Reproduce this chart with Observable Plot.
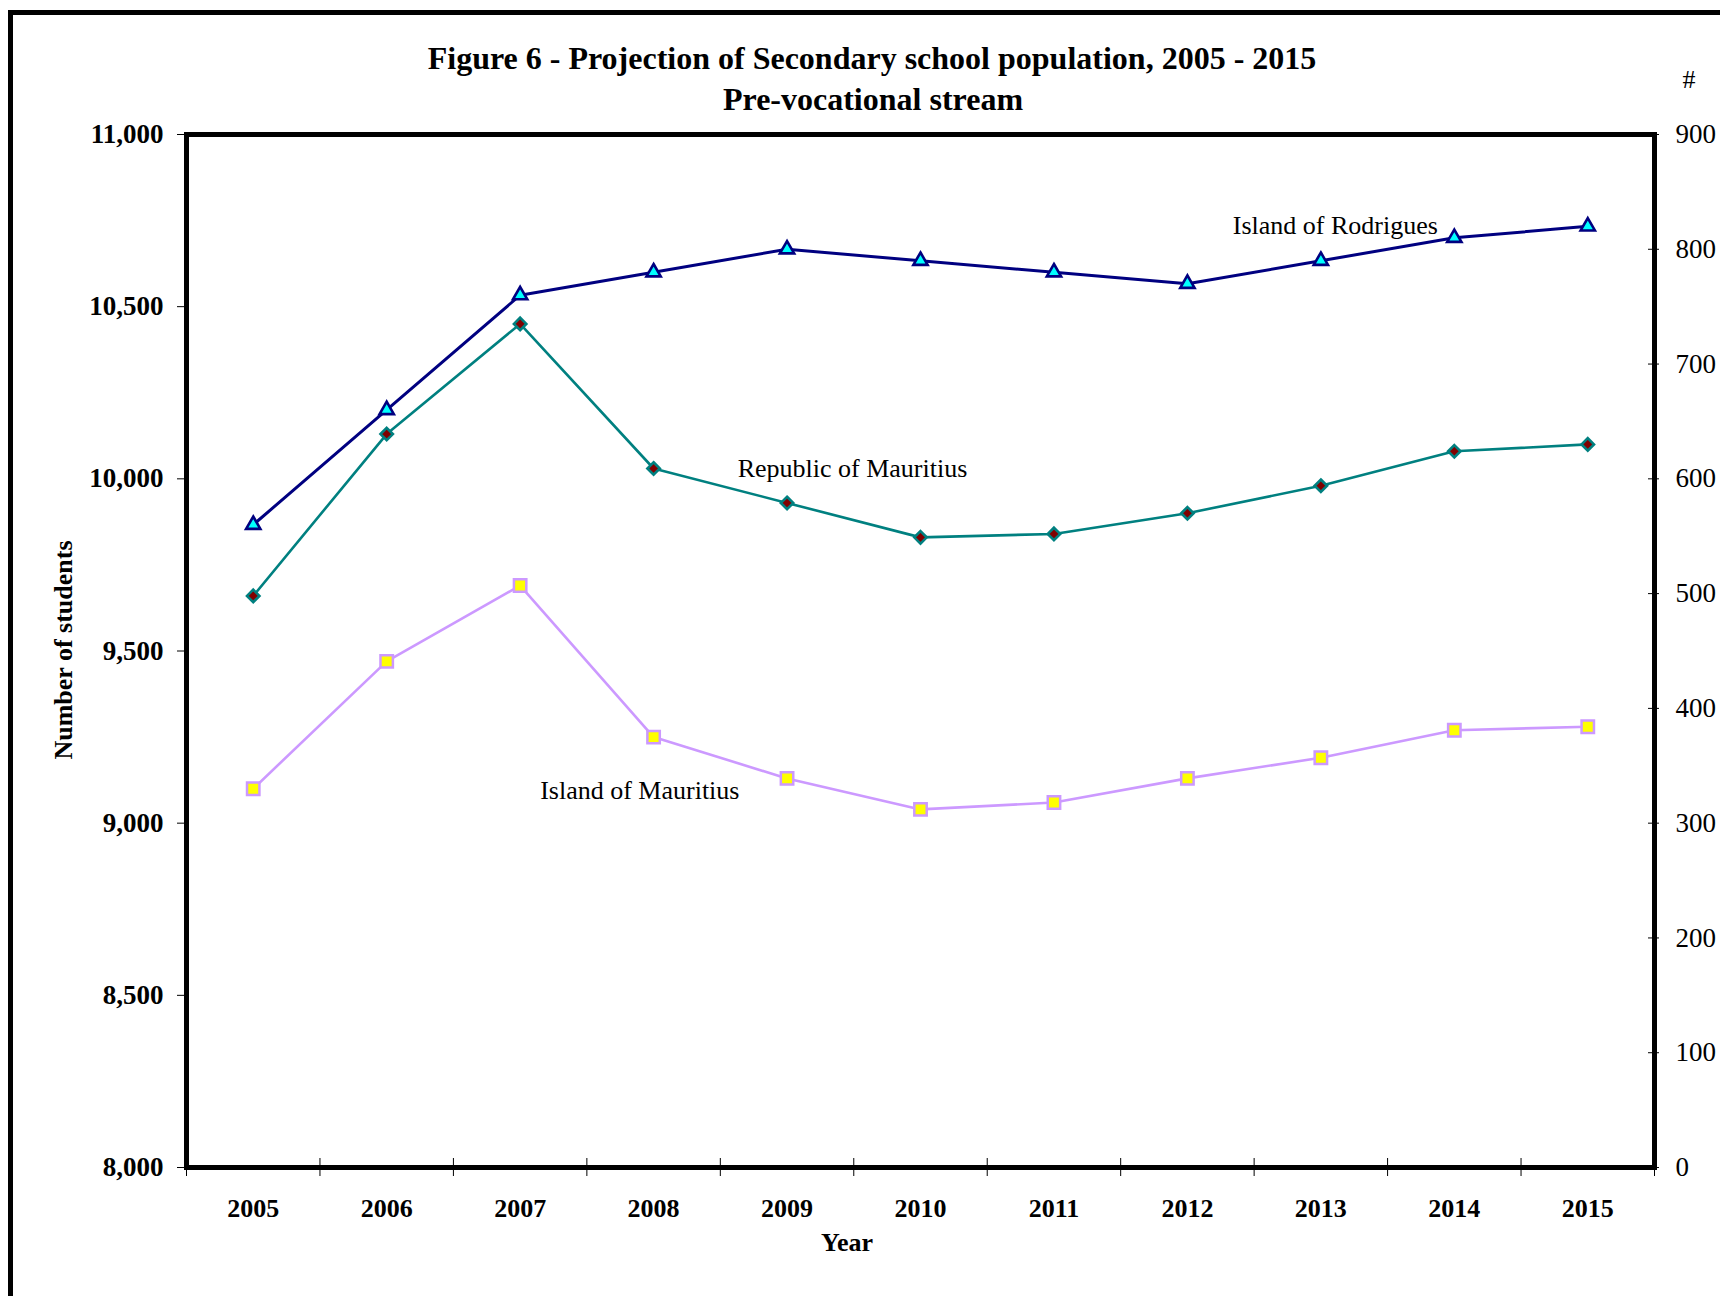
<!DOCTYPE html>
<html>
<head>
<meta charset="utf-8">
<script src="https://cdn.jsdelivr.net/npm/d3@7"></script>
<script src="https://cdn.jsdelivr.net/npm/@observablehq/plot@0.6"></script>
<style>
  html, body { margin: 0; padding: 0; background: #fff; overflow: hidden; }
  #wrap { position: relative; width: 1720px; height: 1296px; font-family: "Liberation Serif", "Times New Roman", serif; color: #000; overflow: hidden; }
  #chart { position: absolute; left: 0; top: 0; }
  #border { position: absolute; left: 8px; top: 10px; width: 1800px; height: 1400px; border-top: 5px solid #000; border-left: 5px solid #000; box-sizing: border-box; }
  .t { position: absolute; white-space: nowrap; transform: translate(-50%, -50%); line-height: 1; }
  .b { font-weight: bold; }
</style>
</head>
<body>
<div id="wrap">
  <div id="border"></div>
  <div id="chart"></div>
  <div class="t b" style="left:872px; top:58px; font-size:32px;">Figure 6 - Projection of Secondary school population, 2005 - 2015</div>
  <div class="t b" style="left:873px; top:99px; font-size:32px;">Pre-vocational stream</div>
  <div class="t" style="left:1689px; top:80px; font-size:26px;">#</div>
  <div class="t b" style="left:64px; top:650px; font-size:26px; transform: translate(-50%, -50%) rotate(-90deg);">Number of students</div>
  <div class="t b" style="left:847px; top:1243px; font-size:26px;">Year</div>
</div>
<script>
// ---- Data ----
const years = [2005, 2006, 2007, 2008, 2009, 2010, 2011, 2012, 2013, 2014, 2015];
const islandOfMauritius = [9100, 9470, 9690, 9250, 9130, 9040, 9060, 9130, 9190, 9270, 9280];
const republicOfMauritius = [9660, 10130, 10450, 10030, 9930, 9830, 9840, 9900, 9980, 10080, 10100];
const islandOfRodrigues = [560, 660, 760, 780, 800, 790, 780, 770, 790, 810, 820]; // right axis
const leftTicks = [8000, 8500, 9000, 9500, 10000, 10500, 11000];
const rightTicks = [0, 100, 200, 300, 400, 500, 600, 700, 800, 900];
const leftDomain = [8000, 11000];
const rightDomain = [0, 900];
const seriesNames = ["Island of Rodrigues", "Republic of Mauritius", "Island of Mauritius"];
const labelYears = [2012.34, 2008.63, 2007.15];
const labelValues = [10735, 10029, 9093];

// ---- Helpers ----
const toLeft = v => leftDomain[0] + (v - rightDomain[0]) * (leftDomain[1] - leftDomain[0]) / (rightDomain[1] - rightDomain[0]);
const fromLeft = v => rightDomain[0] + (v - leftDomain[0]) * (rightDomain[1] - rightDomain[0]) / (leftDomain[1] - leftDomain[0]);
const yearBounds = years.map(y => y - 0.5).concat([years[years.length - 1] + 0.5]);

const im = years.map((year, i) => ({year, value: islandOfMauritius[i]}));
const rep = years.map((year, i) => ({year, value: republicOfMauritius[i]}));
const rod = years.map((year, i) => ({year, value: toLeft(islandOfRodrigues[i])}));
const labels = seriesNames.map((text, i) => ({text, year: labelYears[i], value: labelValues[i]}));

const fmt = d3.format(",");

const chart = Plot.plot({
  width: 1720,
  height: 1296,
  marginLeft: 186,
  marginRight: 66,
  marginTop: 134,
  marginBottom: 129,
  style: {fontFamily: "'Liberation Serif', 'Times New Roman', serif", fontSize: "26px", background: "transparent", color: "#000"},
  x: {type: "linear", domain: [yearBounds[0], yearBounds[yearBounds.length - 1]]},
  y: {domain: leftDomain},
  marks: [
    // axes
    Plot.axisY({anchor: "left", ticks: leftTicks, tickSize: 9, tickPadding: 14, tickFormat: fmt, fontWeight: "bold", fontSize: 27, label: null}),
    Plot.axisY({anchor: "right", ticks: rightTicks.map(toLeft), tickSize: 0, tickPadding: 21, tickFormat: d => fmt(Math.round(fromLeft(d))), fontSize: 27, label: null}),
    Plot.axisY({anchor: "right", ticks: rightTicks.map(toLeft), tickSize: 11, dx: -7, tickFormat: () => "", label: null}),
    Plot.axisX({anchor: "bottom", ticks: years, tickSize: 0, tickPadding: 31, tickFormat: d => String(d), fontWeight: "bold", label: null}),
    Plot.axisX({anchor: "bottom", ticks: yearBounds, tickSize: 18, dy: -9, tickFormat: () => "", label: null}),
    // series
    Plot.line(im, {x: "year", y: "value", stroke: "#CC99FF", strokeWidth: 2.6}),
    Plot.dot(im, {x: "year", y: "value", symbol: "square", r: 7, fill: "#FFFF00", stroke: "#CC99FF", strokeWidth: 2.5}),
    Plot.line(rep, {x: "year", y: "value", stroke: "#008080", strokeWidth: 2.6}),
    Plot.dot(rep, {x: "year", y: "value", symbol: "diamond2", r: 5.6, fill: "#800000", stroke: "#008080", strokeWidth: 2.6}),
    Plot.line(rod, {x: "year", y: "value", stroke: "#000080", strokeWidth: 3}),
    Plot.dot(rod, {x: "year", y: "value", symbol: "triangle", r: 5.3, fill: "#00FFFF", stroke: "#000080", strokeWidth: 2.6}),
    // series labels
    Plot.text(labels, {x: "year", y: "value", text: "text", textAnchor: "start", fontSize: 26}),
    Plot.frame({stroke: "#000", strokeWidth: 5})
  ]
});
document.getElementById("chart").appendChild(chart);
</script>
</body>
</html>
